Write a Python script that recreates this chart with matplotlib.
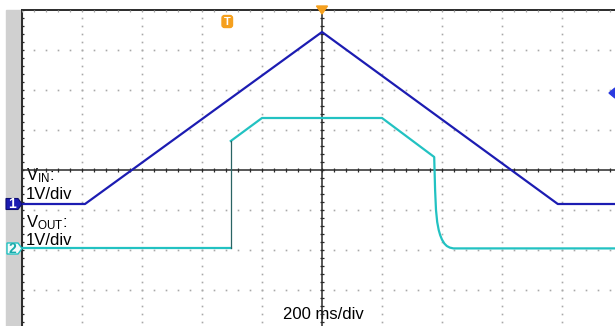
import numpy as np
import matplotlib
matplotlib.use('Agg')
import matplotlib.pyplot as plt
from matplotlib.patches import Rectangle, Polygon, FancyBboxPatch
from matplotlib.transforms import Affine2D

# ---------------- data (screen divisions: time div, volts div) ----------------
vin_t = [-5.0, -3.95, 0.0, 3.93, 4.9]
vin_v = [-0.85, -0.85, 3.45, -0.85, -0.85]

vout_t = [-5.0, -1.52, -1.52, -1.0, 1.0, 1.87, 1.885, 1.90, 1.92, 1.945, 1.97,
          2.0, 2.04, 2.08, 2.13, 2.19, 4.9]
vout_v = [-1.96, -1.96, 0.725, 1.3, 1.3, 0.325, -0.5, -1.0, -1.3, -1.5, -1.63,
          -1.74, -1.84, -1.9, -1.94, -1.96, -1.96]

ch1_label = [r"V$_{\mathregular{IN}}$:", "1V/div"]
ch2_label = [r"V$_{\mathregular{OUT}}$:", "1V/div"]
time_label = "200 ms/div"

# ---------------- styling ----------------
plt.rcParams['font.family'] = ['Liberation Sans', 'DejaVu Sans']
plt.rcParams['mathtext.fontset'] = 'custom'
plt.rcParams['mathtext.rm'] = 'Liberation Sans'
plt.rcParams['mathtext.it'] = 'Liberation Sans'

BLUE = '#1c1cb2'
CYAN = '#22c2c2'
ORANGE = '#f5a01e'
AXC = '#2a2a2a'
GRIDC = '#a8a8a8'

W, H = 615, 326
fig = plt.figure(figsize=(W / 100, H / 100), dpi=100)
pix = Affine2D().scale(1, -1).translate(0, H)  # image pixel coords -> display

ax = fig.add_axes([22 / W, 0, (W - 22) / W, (H - 10) / H])
ax.set_xlim(-5, (W - 322) / 60)
ax.set_ylim(-(H - 170) / 40, 4)
ax.axis('off')

# gray side bar
ax.add_patch(Rectangle((6, 10), 16, H - 10, transform=pix, color='#d0d0d0',
                       clip_on=False, zorder=0))

# dotted grid
ys = np.arange(-4.0, 4.001, 0.2)
xs = np.arange(-5.0, 5.001, 0.2)
for gx in [-4, -3, -2, -1, 1, 2, 3, 4]:
    ax.plot(np.full_like(ys, gx), ys, ls='none', marker='s', ms=1.2, mew=0,
            color=GRIDC, zorder=1)
for gy in [-3, -2, -1, 1, 2, 3]:
    ax.plot(xs, np.full_like(xs, gy), ls='none', marker='s', ms=1.2, mew=0,
            color=GRIDC, zorder=1)

# center axes with minor ticks
ax.axhline(0, color=AXC, lw=1.1, zorder=3)
ax.axvline(0, color=AXC, lw=1.1, zorder=3)
ax.vlines(xs, -0.06, 0.06, color=AXC, lw=0.9, zorder=3)
ax.hlines(ys, -0.04, 0.04, color=AXC, lw=0.9, zorder=3)

# borders (top & left) with minor ticks
ax.axhline(4, color=AXC, lw=1.4, clip_on=False, zorder=3)
ax.axvline(-5, color=AXC, lw=1.4, clip_on=False, zorder=3)
ax.vlines(xs, 3.94, 4, color=GRIDC, lw=0.9, zorder=3)
ax.hlines(ys, -5, -4.96, color=AXC, lw=0.9, zorder=3)

# traces
ax.plot(vout_t[:2], vout_v[:2], color=CYAN, lw=1.6, zorder=4)
ax.plot(vout_t[2:], vout_v[2:], color=CYAN, lw=1.6, zorder=4, solid_joinstyle='round')
ax.plot(vout_t[1:3], vout_v[1:3], color='#2a6464', lw=0.9, zorder=4)
ax.plot(vin_t, vin_v, color=BLUE, lw=1.6, zorder=5, solid_joinstyle='round')

# labels
FS = 12
ax.text(26, 180, ch1_label[0], transform=pix, fontsize=FS, ha='left', va='baseline',
        clip_on=False, zorder=2)
ax.text(26, 199, ch1_label[1], transform=pix, fontsize=FS, ha='left', va='baseline',
        clip_on=False, zorder=2)
ax.text(26, 227, ch2_label[0], transform=pix, fontsize=FS, ha='left', va='baseline',
        clip_on=False, zorder=2)
ax.text(26, 245, ch2_label[1], transform=pix, fontsize=FS, ha='left', va='baseline',
        clip_on=False, zorder=2)
ax.text(323, 319, time_label, transform=pix, fontsize=FS, ha='center', va='baseline',
        clip_on=False, zorder=2)

# channel markers
ax.add_patch(Polygon([(6, 198.5), (18, 198.5), (22, 204), (18, 209.5), (6, 209.5)],
                     closed=True, transform=pix, facecolor=BLUE, edgecolor='#0c0c70',
                     lw=0.8, clip_on=False, zorder=6))
ax.text(12, 204.5, "1", transform=pix, color='white', fontsize=10, fontweight='bold',
        ha='center', va='center', clip_on=False, zorder=7)
ax.add_patch(Polygon([(7, 243), (18, 243), (22, 248.5), (18, 254), (7, 254)],
                     closed=True, transform=pix, facecolor='#f2fbfb', edgecolor=CYAN,
                     lw=1.0, clip_on=False, zorder=6))
ax.text(12.5, 249, "2", transform=pix, color='#18aaaa', fontsize=10, fontweight='bold',
        ha='center', va='center', clip_on=False, zorder=7)

# trigger markers
ax.add_patch(FancyBboxPatch((222, 15.5), 10.5, 12, boxstyle="round,pad=0,rounding_size=2.5",
                            transform=pix, facecolor=ORANGE, edgecolor=ORANGE,
                            clip_on=False, zorder=6))
ax.text(227.3, 21.8, "T", transform=pix, color='white', fontsize=8, fontweight='bold',
        ha='center', va='center', clip_on=False, zorder=7)
ax.add_patch(Polygon([(316.5, 6), (327.5, 6), (322, 14)], closed=True, transform=pix,
                     facecolor=ORANGE, edgecolor=ORANGE, clip_on=False, zorder=6))
ax.add_patch(Polygon([(609, 93), (615, 88), (615, 98)], closed=True, transform=pix,
                     facecolor='#2a3ae0', edgecolor='#2a3ae0', clip_on=False, zorder=6))

fig.savefig('out.png', dpi=100)
